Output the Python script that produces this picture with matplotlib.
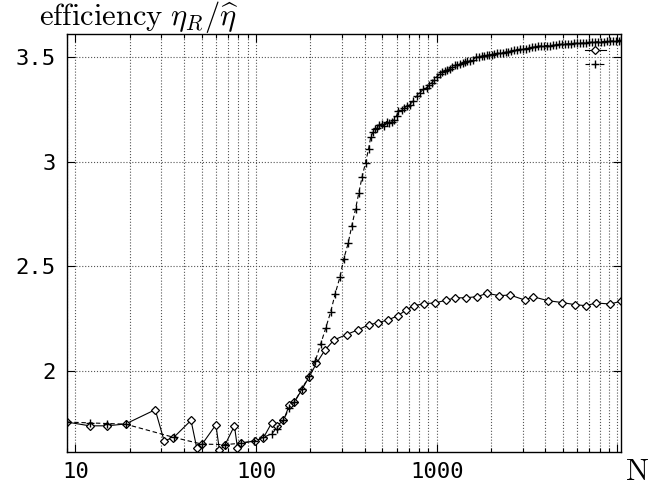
import numpy as np
import matplotlib
matplotlib.use("Agg")
import matplotlib.pyplot as plt
from matplotlib.ticker import FixedLocator, FuncFormatter, LogLocator, NullFormatter

plt.rcParams['mathtext.fontset'] = 'cm'

# diamond series (solid line)
diam_N = [9, 12, 15, 19, 27.7, 31, 34.9, 43.7, 47, 50.5, 60, 62.8, 67.2, 76, 79,
          82.7, 98.4, 110, 122, 130, 142, 153, 163, 179, 197, 216, 240, 270, 317,
          365, 420, 474, 537, 608, 673, 751, 854, 982, 1122, 1262, 1452, 1672,
          1900, 2224, 2548, 3073, 3418, 4124, 4946, 5819, 6697, 7608, 9127, 10450]
diam_eff = [1.756, 1.738, 1.738, 1.747, 1.815, 1.667, 1.681, 1.764, 1.633, 1.652,
            1.743, 1.621, 1.645, 1.738, 1.632, 1.657, 1.665, 1.681, 1.751, 1.737,
            1.764, 1.837, 1.850, 1.910, 1.972, 2.036, 2.098, 2.148, 2.174, 2.196,
            2.220, 2.231, 2.244, 2.263, 2.290, 2.312, 2.322, 2.325, 2.338, 2.349,
            2.350, 2.355, 2.371, 2.360, 2.363, 2.339, 2.355, 2.336, 2.327, 2.317,
            2.312, 2.325, 2.320, 2.333]

# plus series (dashed line)
plus_N = [9, 12, 15, 19, 35, 50, 67, 83, 98, 110, 122, 130, 142, 153, 163, 179,
          197, 213, 228, 243, 259, 274, 292, 306, 324, 339, 356, 371, 387, 404,
          420, 432, 444, 455, 467, 482, 496, 511, 528, 544, 566, 580, 600, 613,
          640, 659, 682, 711, 742, 775, 808, 843, 880, 906, 938, 966, 1000, 1043,
          1077, 1112, 1148, 1185, 1223, 1263, 1304, 1346, 1390, 1435, 1481, 1529,
          1589, 1651, 1705, 1775, 1828, 1892, 1949, 2017, 2077, 2150, 2242, 2339,
          2421, 2493, 2580, 2681, 2786, 2894, 3007, 3124, 3246, 3373, 3504, 3641,
          3782, 3929, 4083, 4242, 4408, 4579, 4758, 4944, 5136, 5336, 5546, 5763,
          5988, 6222, 6465, 6716, 6978, 7251, 7534, 7827, 8132, 8449, 8779, 9122,
          9477, 9847, 10230, 10457]
plus_eff = [1.756, 1.752, 1.749, 1.746, 1.683, 1.651, 1.648, 1.655, 1.665, 1.683,
            1.700, 1.725, 1.765, 1.825, 1.852, 1.912, 1.977, 2.048, 2.128, 2.204,
            2.282, 2.367, 2.451, 2.535, 2.612, 2.693, 2.776, 2.852, 2.929, 2.996,
            3.061, 3.120, 3.140, 3.155, 3.160, 3.175, 3.180, 3.170, 3.192, 3.185,
            3.190, 3.200, 3.220, 3.240, 3.245, 3.255, 3.265, 3.273, 3.290, 3.313,
            3.330, 3.346, 3.354, 3.365, 3.376, 3.390, 3.405, 3.420, 3.430, 3.435,
            3.440, 3.445, 3.453, 3.460, 3.463, 3.468, 3.472, 3.476, 3.479, 3.480,
            3.487, 3.500, 3.502, 3.504, 3.506, 3.508, 3.510, 3.512, 3.515, 3.517,
            3.520, 3.520, 3.524, 3.526, 3.528, 3.532, 3.535, 3.537, 3.538, 3.540,
            3.543, 3.546, 3.549, 3.551, 3.553, 3.554, 3.555, 3.555, 3.556, 3.558,
            3.560, 3.561, 3.562, 3.563, 3.564, 3.565, 3.566, 3.567, 3.567, 3.569,
            3.570, 3.571, 3.572, 3.573, 3.573, 3.574, 3.575, 3.576, 3.577, 3.578,
            3.579, 3.580]

x_ticks = [10, 100, 1000, 10000]
x_labels = {10: "10", 100: "100", 1000: "1000"}
y_ticks = [2, 2.5, 3, 3.5]
y_labels = ["2", "2.5", "3", "3.5"]

fig = plt.figure(figsize=(6.57, 4.88), dpi=100)
ax = fig.add_axes([0.102, 0.0738, 0.843, 0.8565])

h1, = ax.plot(diam_N, diam_eff, color='black', lw=0.8, marker='D', ms=4.4,
              mfc='white', mec='black', mew=0.9)
h2, = ax.plot(plus_N, plus_eff, color='black', lw=0.8, ls=(0, (4, 2.5)),
              marker='+', ms=6, mew=1.0)

ax.set_xscale('log')
ax.set_xlim(9, 10457)
ax.set_ylim(1.613, 3.61)

ax.xaxis.set_major_locator(FixedLocator(x_ticks))
ax.xaxis.set_major_formatter(FuncFormatter(lambda v, p: x_labels.get(int(round(v)), "")))
ax.xaxis.set_minor_locator(LogLocator(base=10, subs=np.arange(2, 10)))
ax.xaxis.set_minor_formatter(NullFormatter())
ax.yaxis.set_major_locator(FixedLocator(y_ticks))
ax.set_yticklabels(y_labels)

mono = 'DejaVu Sans Mono'
for lab in ax.get_xticklabels() + ax.get_yticklabels():
    lab.set_family(mono)
    lab.set_fontsize(16)

ax.tick_params(which='both', direction='in', top=True, right=True, width=0.8)
ax.tick_params(which='major', length=6)
ax.tick_params(which='minor', length=3)
ax.tick_params(axis='x', which='major', pad=7)
ax.tick_params(axis='y', which='major', pad=8)

ax.grid(True, which='major', axis='both', ls=':', lw=0.8, color='#555555')
ax.grid(True, which='minor', axis='x', ls=':', lw=0.8, color='#555555')
for sp in ax.spines.values():
    sp.set_linewidth(1.0)

leg = ax.legend([h1, h2], [" ", " "], loc='upper left', bbox_to_anchor=(0.935, 0.972),
                frameon=False, fontsize=8, handlelength=1.9, labelspacing=0.35,
                borderpad=0, borderaxespad=0, handletextpad=0.2)

fig.text(0.059, 0.948, r"$\mathrm{efficiency}\ \eta_R/\widehat{\eta}$", fontsize=22,
         ha='left', va='baseline')
fig.text(0.969, 0.017, r"$\mathrm{N}$", fontsize=22, ha='center', va='baseline')

fig.savefig("out.png", dpi=100)
